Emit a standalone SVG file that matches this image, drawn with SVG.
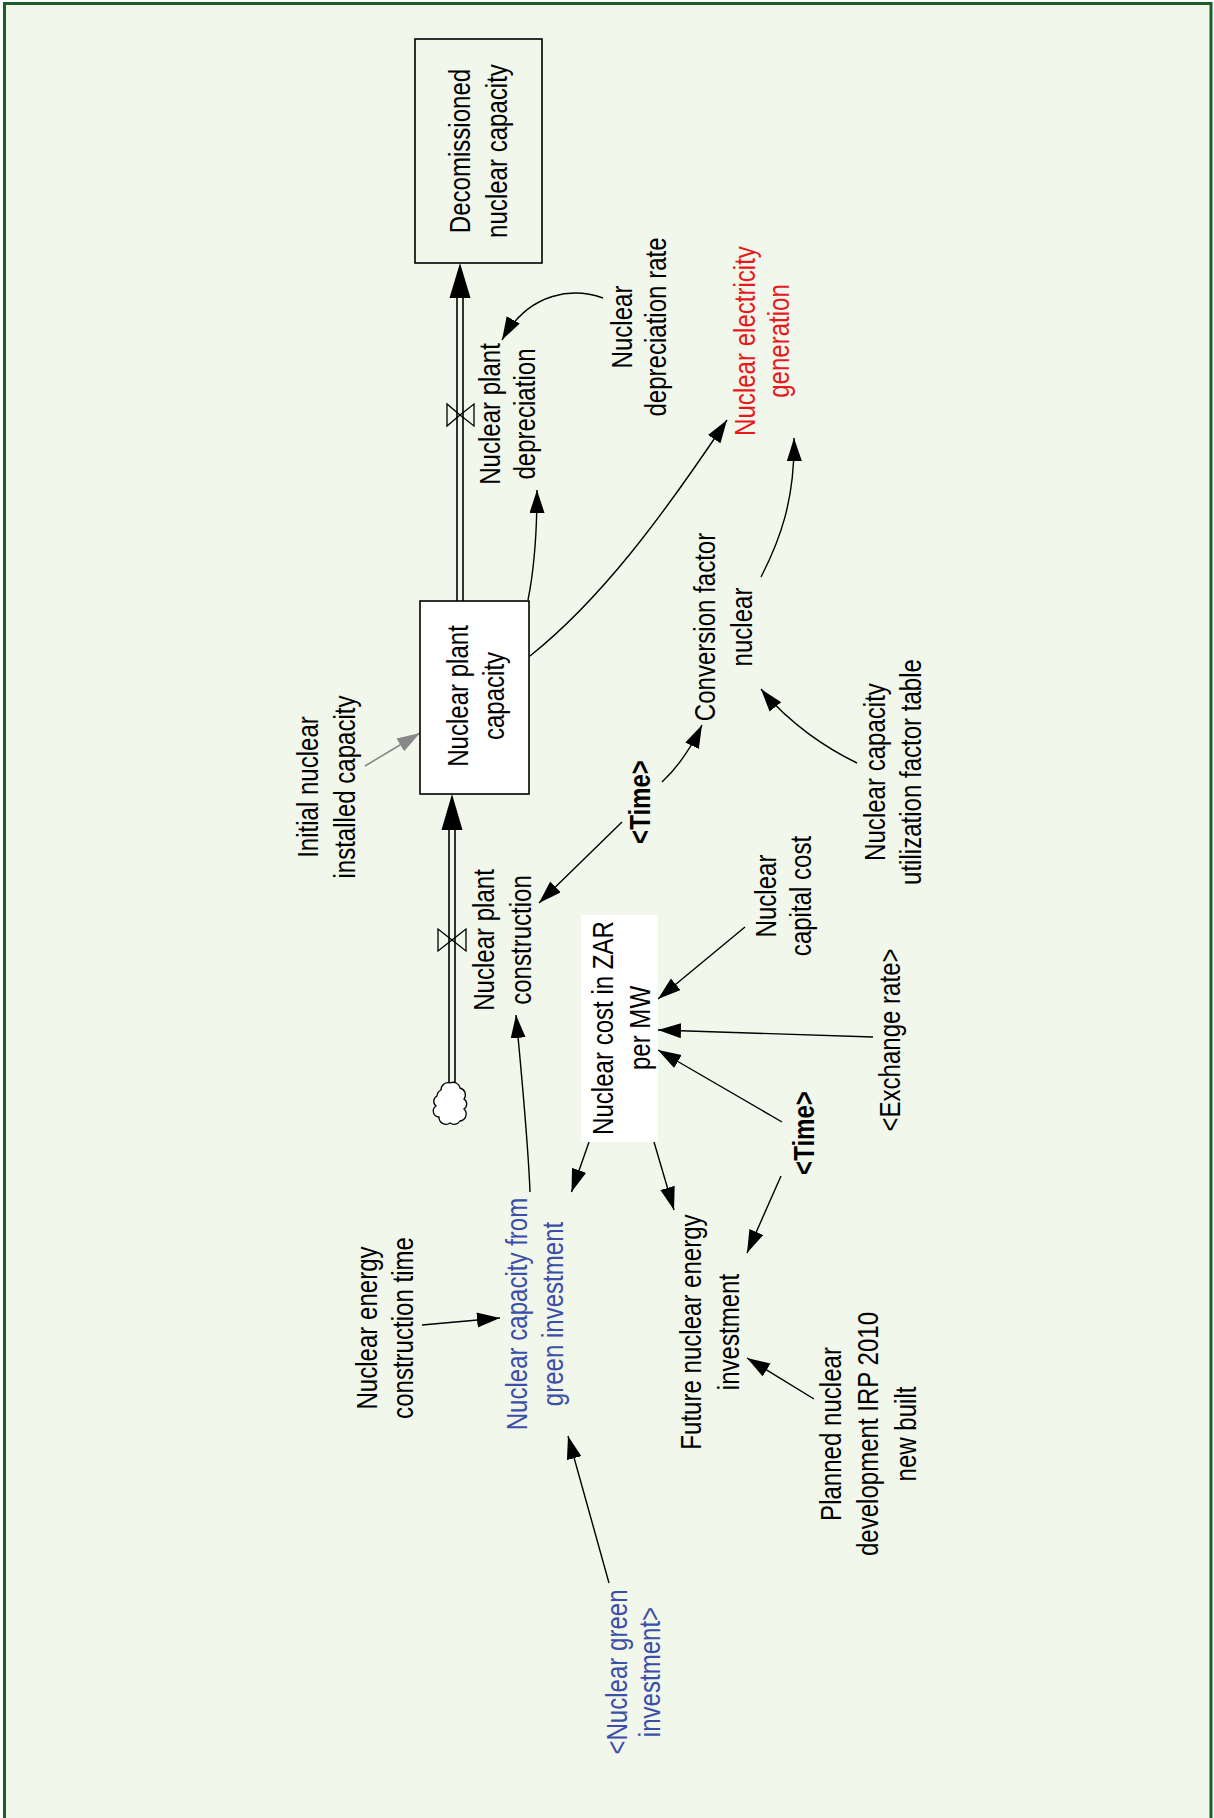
<svg xmlns="http://www.w3.org/2000/svg" width="1214" height="1818" viewBox="0 0 1214 1818">
<defs>
<style>
.t{font-family:"Liberation Sans",Arial,sans-serif;font-size:29px;fill:#000;text-anchor:middle}
.b{font-weight:bold}
.red{fill:#e8191c}
.blue{fill:#3b4fa8}
.link{fill:none;stroke:#000;stroke-width:1.4;marker-end:url(#ah)}
.gray{fill:none;stroke:#888;stroke-width:1.6;marker-end:url(#ahg)}
.pipe{stroke:#000;stroke-width:1.6}
.valve{fill:none;stroke:#000;stroke-width:1.3}
.stock{stroke:#000;stroke-width:1.6}
</style>
<marker id="ah" markerUnits="userSpaceOnUse" markerWidth="24" markerHeight="16" refX="23" refY="7.5" orient="auto">
<path d="M0,0 L23,7.5 L0,15 z" fill="#000"/>
</marker>
<marker id="ahg" markerUnits="userSpaceOnUse" markerWidth="24" markerHeight="16" refX="23" refY="7.5" orient="auto">
<path d="M0,0 L23,7.5 L0,15 z" fill="#888"/>
</marker>
</defs>
<rect x="0" y="0" width="1214" height="1818" fill="#fff"/>
<rect x="4.5" y="3.5" width="1206.5" height="1840" fill="#f2f7ec" stroke="#1b5e2a" stroke-width="3"/>

<g id="connectors">
<!-- flow pipes -->
<line class="pipe" x1="457" y1="601" x2="457" y2="297"/>
<line class="pipe" x1="463" y1="601" x2="463" y2="297"/>
<polygon points="460,263 449.5,298 470.5,298" fill="#000"/>
<polygon class="valve" points="447,404 447,426 460,415 474,404 474,426 460,415"/>
<line class="pipe" x1="449" y1="829" x2="449" y2="1090"/>
<line class="pipe" x1="455" y1="829" x2="455" y2="1090"/>
<polygon points="452,794 441.5,830 462.5,830" fill="#000"/>
<polygon class="valve" points="438,929 438,951 452,940 466,929 466,951 452,940"/>
<path d="M441,1090 a7,7 0 0 1 9,-7 a7,7 0 0 1 10,5 a7,7 0 0 1 4,11 a6,6 0 0 1 0,10 a7,7 0 0 1 -4,12 a7,7 0 0 1 -10,2 a7,7 0 0 1 -11,-6 a6,6 0 0 1 -3,-11 a6,6 0 0 1 1,-10 a7,7 0 0 1 4,-6 z" fill="#fff" stroke="#000" stroke-width="1.3"/>
<!-- links -->
<path class="link" d="M603,298 C575,288 530,290 502,340"/>
<path class="link" d="M528,600 C534,570 537,540 537,490"/>
<path class="link" d="M530,656 C600,600 660,520 727,420"/>
<path class="link" d="M761,577 C780,540 795,500 794,438"/>
<path class="link" d="M857,763 C830,750 790,725 761,689"/>
<path class="link" d="M662,782 C675,770 690,750 702,725"/>
<path class="link" d="M622,822 L539,903"/>
<path class="link" d="M745,927 L658,999"/>
<path class="link" d="M873,1037 L658,1030"/>
<path class="link" d="M782,1122 L658,1050"/>
<path class="link" d="M781,1176 L747,1253"/>
<path class="link" d="M589,1142 L571.5,1192"/>
<path class="link" d="M654,1142 L674,1210"/>
<path class="link" d="M530,1192 C528,1140 522,1080 516,1015"/>
<path class="link" d="M422,1325 L500,1318"/>
<path class="link" d="M609,1583 L568,1436"/>
<path class="link" d="M814,1399 L747,1358"/>
<path class="gray" d="M365,766 L420,733"/>
</g>

<g id="decomissioned">
<rect class="stock" x="415" y="39" width="127" height="224" fill="none"/>
<text class="t" transform="translate(0,151) rotate(-90) scale(0.83,1)"><tspan x="0" y="470.5">Decomissioned</tspan><tspan x="0" y="507.5">nuclear capacity</tspan></text>
</g>
<g id="depreciation">
<text class="t" transform="translate(0,414) rotate(-90) scale(0.83,1)"><tspan x="0" y="500">Nuclear plant</tspan><tspan x="0" y="535">depreciation</tspan></text>
</g>
<g id="deprate">
<text class="t" transform="translate(0,327) rotate(-90) scale(0.83,1)"><tspan x="0" y="632">Nuclear</tspan><tspan x="0" y="666">depreciation rate</tspan></text>
</g>
<g id="generation">
<text class="t red" transform="translate(0,341) rotate(-90) scale(0.83,1)"><tspan x="0" y="755">Nuclear electricity</tspan><tspan x="0" y="789">generation</tspan></text>
</g>
<g id="plantcap">
<rect class="stock" x="420" y="601" width="109" height="193" fill="#fff"/>
<text class="t" transform="translate(0,696) rotate(-90) scale(0.83,1)"><tspan x="0" y="468">Nuclear plant</tspan><tspan x="0" y="504">capacity</tspan></text>
</g>
<g id="initial">
<text class="t" transform="translate(0,787) rotate(-90) scale(0.83,1)"><tspan x="0" y="318.5">Initial nuclear</tspan><tspan x="0" y="355">installed capacity</tspan></text>
</g>
<g id="conversion">
<text class="t" transform="translate(0,627) rotate(-90) scale(0.83,1)"><tspan x="0" y="715">Conversion factor</tspan><tspan x="0" y="752">nuclear</tspan></text>
</g>
<g id="utiltable">
<text class="t" transform="translate(0,772) rotate(-90) scale(0.83,1)"><tspan x="0" y="885">Nuclear capacity</tspan><tspan x="0" y="921">utilization factor table</tspan></text>
</g>
<g id="time1">
<text class="t b" transform="translate(0,802) rotate(-90) scale(0.83,1)"><tspan x="0" y="650">&lt;Time&gt;</tspan></text>
</g>
<g id="construction">
<text class="t" transform="translate(0,940) rotate(-90) scale(0.83,1)"><tspan x="0" y="494">Nuclear plant</tspan><tspan x="0" y="531">construction</tspan></text>
</g>
<g id="costzar">
<rect x="581" y="915" width="77" height="227" fill="#fff"/>
<text class="t" transform="translate(0,1028) rotate(-90) scale(0.83,1)"><tspan x="0" y="613">Nuclear cost in ZAR</tspan><tspan x="0" y="650">per MW</tspan></text>
</g>
<g id="capitalcost">
<text class="t" transform="translate(0,896) rotate(-90) scale(0.83,1)"><tspan x="0" y="776">Nuclear</tspan><tspan x="0" y="811">capital cost</tspan></text>
</g>
<g id="exchange">
<text class="t" transform="translate(0,1040) rotate(-90) scale(0.83,1)"><tspan x="0" y="900">&lt;Exchange rate&gt;</tspan></text>
</g>
<g id="time2">
<text class="t b" transform="translate(0,1133) rotate(-90) scale(0.83,1)"><tspan x="0" y="814">&lt;Time&gt;</tspan></text>
</g>
<g id="constime">
<text class="t" transform="translate(0,1328) rotate(-90) scale(0.83,1)"><tspan x="0" y="377">Nuclear energy</tspan><tspan x="0" y="413">construction time</tspan></text>
</g>
<g id="greencap">
<text class="t blue" transform="translate(0,1314) rotate(-90) scale(0.83,1)"><tspan x="0" y="527.5">Nuclear capacity from</tspan><tspan x="0" y="563">green investment</tspan></text>
</g>
<g id="future">
<text class="t" transform="translate(0,1332) rotate(-90) scale(0.83,1)"><tspan x="0" y="701.5">Future nuclear energy</tspan><tspan x="0" y="739">investment</tspan></text>
</g>
<g id="planned">
<text class="t" transform="translate(0,1434) rotate(-90) scale(0.83,1)"><tspan x="0" y="841.5">Planned nuclear</tspan><tspan x="0" y="878">development IRP 2010</tspan><tspan x="0" y="916">new built</tspan></text>
</g>
<g id="greeninv">
<text class="t blue" transform="translate(0,1672) rotate(-90) scale(0.83,1)"><tspan x="0" y="627">&lt;Nuclear green</tspan><tspan x="0" y="660">investment&gt;</tspan></text>
</g>
</svg>
